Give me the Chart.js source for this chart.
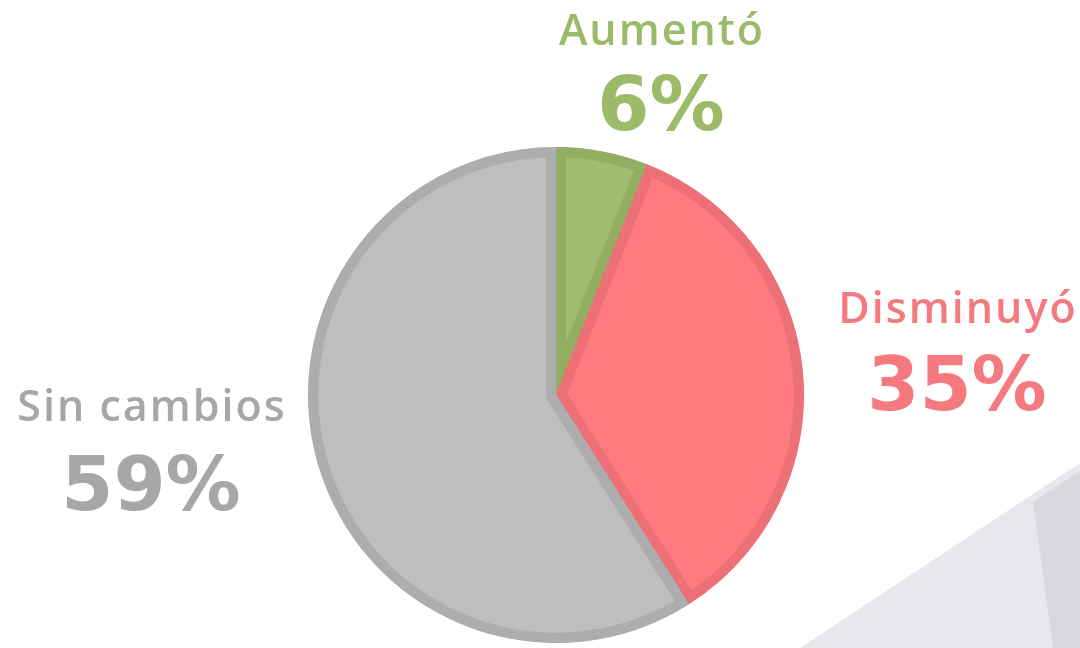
<!DOCTYPE html>
<html>
<head>
<meta charset="utf-8">
<script src="https://cdn.jsdelivr.net/npm/chart.js@4"></script>
<style>
  html, body { margin: 0; padding: 0; background: #fff; }
  #wrap { position: relative; width: 1080px; height: 648px; overflow: hidden; }
  .bg1 { position: absolute; inset: 0; background: #e9e7ec;
         clip-path: polygon(800px 648px, 1080px 463px, 1080px 648px); }
  .bg2 { position: absolute; inset: 0; background: #dad8dd;
         clip-path: polygon(1033px 502px, 1080px 471px, 1080px 648px, 1053px 648px); }
  canvas { position: absolute; left: 0; top: 0; }
</style>
</head>
<body>
<div id="wrap">
  <div class="bg1"></div>
  <div class="bg2"></div>
  <canvas id="pie" width="1080" height="648"></canvas>
</div>
<script>
const categories = ['Aumentó', 'Disminuyó', 'Sin cambios'];
const values = [6, 35, 59];
const fillColors = ['#a0bc6e', '#ff7b80', '#bebebe'];
const edgeColors = ['#93ad62', '#ee7077', '#adadad'];
const textColors = ['#9cbb69', '#f57a80', '#a7a7a7'];

// label centre x, name baseline, percent baseline
const labelPos = [[661, 45, 130], [957, 323, 410], [151, 421, 510]];

const outsideLabels = {
  id: 'outsideLabels',
  afterDraw(chart) {
    const ctx = chart.ctx;
    ctx.save();
    ctx.textAlign = 'center';
    ctx.textBaseline = 'alphabetic';
    categories.forEach((c, i) => {
      const [x, yName, yPct] = labelPos[i];
      ctx.fillStyle = textColors[i];
      ctx.font = '600 43px "Open Sans", sans-serif';
      ctx.letterSpacing = '2px';
      ctx.fillText(c, x + 1, yName);
      ctx.font = 'bold 75px "DejaVu Sans", sans-serif';
      ctx.letterSpacing = '0px';
      ctx.fillText(values[i] + '%', x, yPct);
    });
    ctx.restore();
  }
};

new Chart(document.getElementById('pie'), {
  type: 'pie',
  data: {
    labels: categories,
    datasets: [{
      data: values,
      backgroundColor: fillColors,
      borderColor: edgeColors,
      borderWidth: 10,
      borderAlign: 'inner'
    }]
  },
  options: {
    responsive: false,
    animation: false,
    layout: { padding: { left: 308, right: 276, top: 147, bottom: 5 } },
    plugins: { legend: { display: false }, tooltip: { enabled: false } }
  },
  plugins: [outsideLabels]
});
</script>
</body>
</html>
